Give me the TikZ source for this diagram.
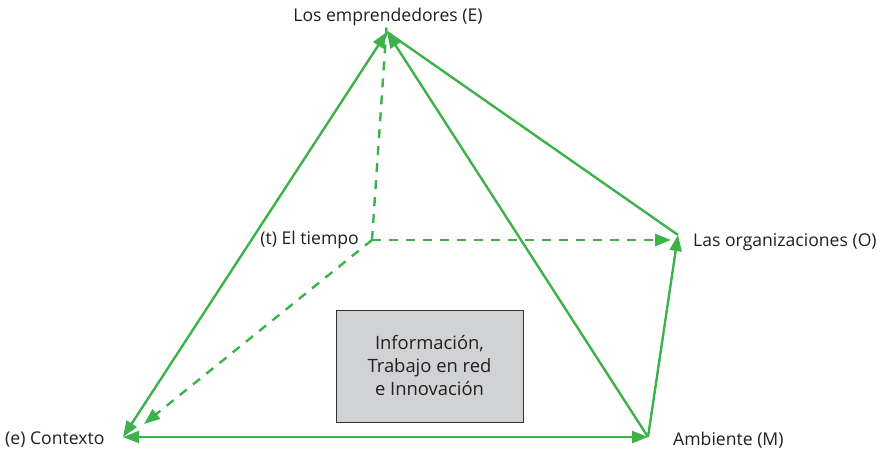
\documentclass[tikz,border=0pt]{standalone}
\usepackage{fontspec}
\setmainfont{Open Sans}
\usetikzlibrary{arrows.meta}
\definecolor{grn}{RGB}{62,178,74}
\definecolor{boxgray}{RGB}{209,210,212}
\definecolor{txt}{RGB}{35,31,32}
\begin{document}
\begin{tikzpicture}[x=1pt,y=-1pt,
  conn/.style={draw=grn,line width=2.4pt},
  dconn/.style={conn,dash pattern=on 9pt off 8pt},
  tip/.style={-{Triangle[length=16pt,width=12pt]}},
  lbl/.style={font=\fontsize{17.6}{20}\selectfont,inner sep=0pt,text=txt}]
\useasboundingbox (0,0) rectangle (880,450);
\coordinate (E) at (387,32);
\coordinate (T) at (372,240);
\coordinate (O) at (678,235);
\coordinate (C) at (123,437);
\coordinate (M) at (648,437);
\coordinate (Ot) at (671,240);
\coordinate (Ct) at (144,424);
\node[lbl] (lE) at (388,17) {Los emprendedores (E)};
\node[lbl,anchor=east] (lT) at (359,240) {(t) El tiempo};
\node[lbl,anchor=west] (lO) at (693,242) {Las organizaciones (O)};
\node[lbl,anchor=west] (lC) at (5,440) {(e) Contexto};
\node[lbl,anchor=west] (lM) at (673,440) {Ambiente (M)};
\node[draw=black!80,line width=0.8pt,fill=boxgray,minimum width=187pt,minimum height=112pt,
  align=center,text=txt,font=\fontsize{18.4}{23}\selectfont] (box) at (429.5,366)
  {Información,\\Trabajo en red\\e Innovación};
% dashed
\draw[dconn] (T) -- ([yshift=12pt]E);
\draw[dconn,tip] (T) -- (Ot);
\draw[dconn,tip] (T) -- (Ct);
% solid
\draw[conn,{Triangle[length=16pt,width=12pt]}-{Triangle[length=16pt,width=12pt]}] (C) -- (E);
\draw[conn,{Triangle[length=16pt,width=12pt]}-{Triangle[length=16pt,width=12pt]}] (C) -- (M);
\draw[conn,tip] (M) -- (E);
\draw[conn,tip] (M) -- (O);
\draw[conn] (E) -- (O);
\end{tikzpicture}
\end{document}
